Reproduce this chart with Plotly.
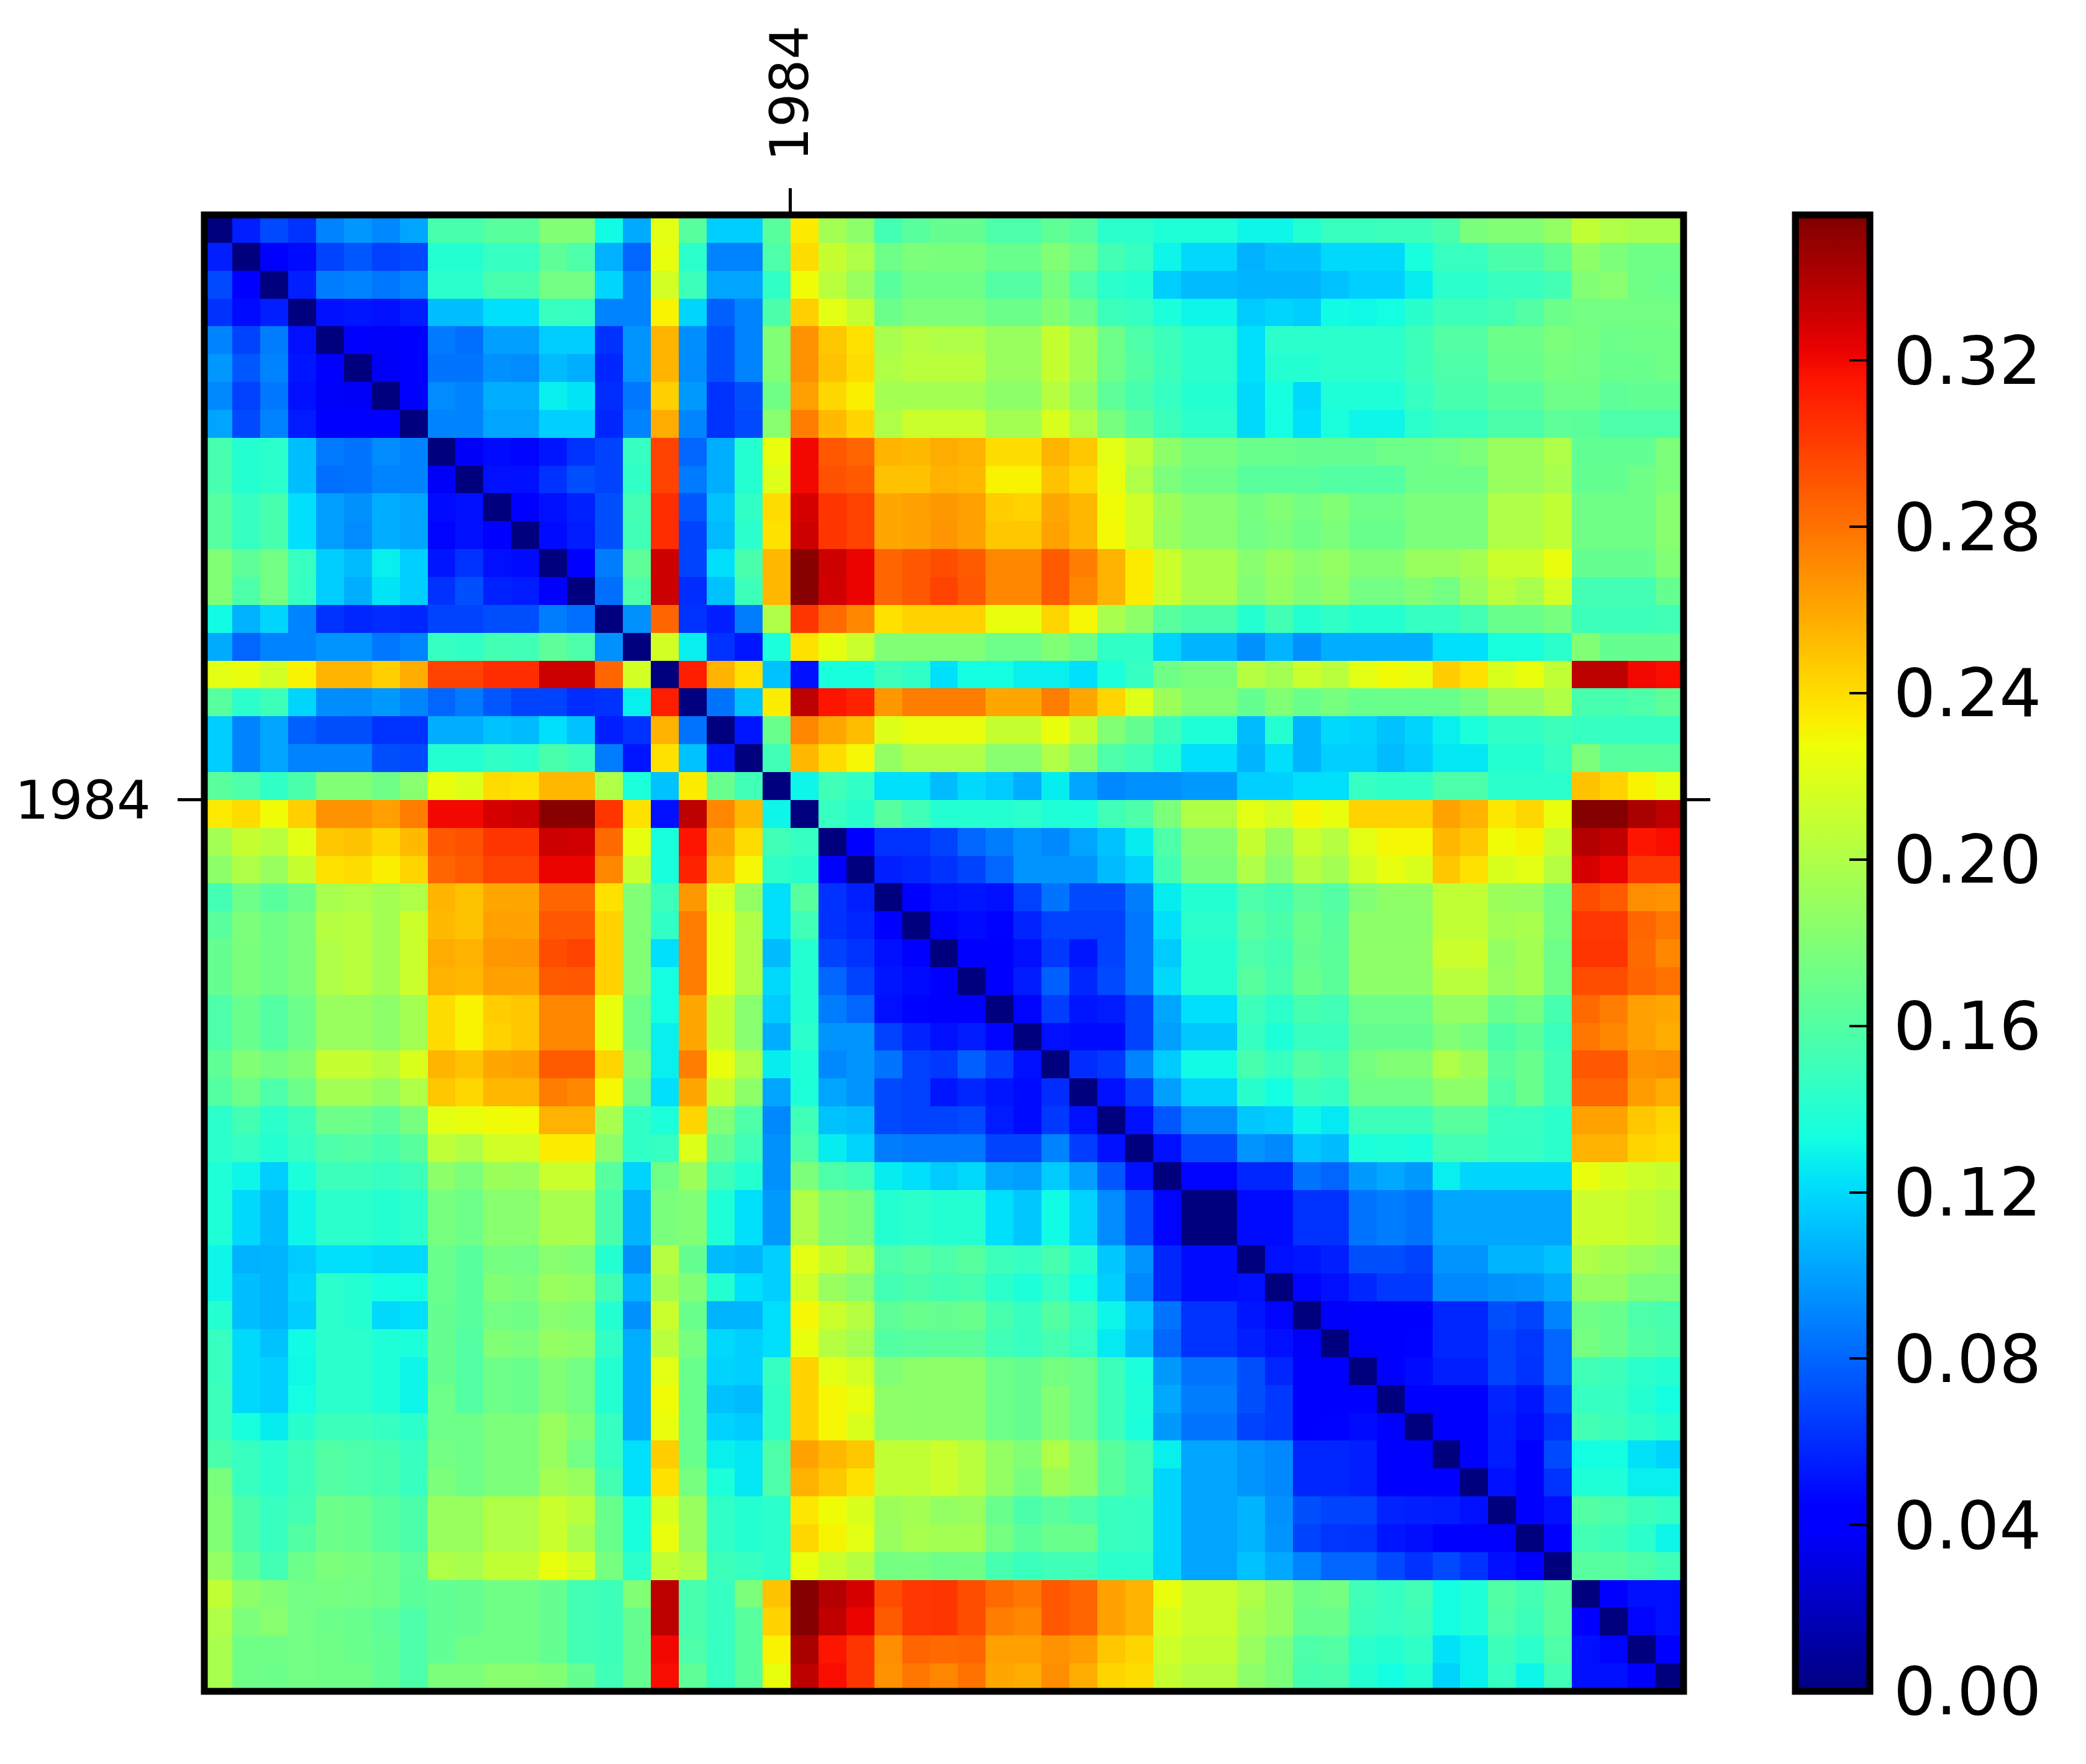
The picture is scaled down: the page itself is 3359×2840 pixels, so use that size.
import numpy as np
import plotly.graph_objects as go

# upper triangle of the distance matrix, in thousandths
# (row n holds columns n+1 .. 52, the matrix is symmetric with a zero diagonal)
row_00 = [55,70,62,90,97,92,102,155,155,162,162,180,180,132,104,222,162,116,116,163,235,195,185,153,163,168,168,158,158,166,161,143,143,138,138,138,130,130,140,148,148,150,150,156,177,180,180,188,208,200,197,197]
row_01 = [40,48,68,75,67,70,140,140,147,147,165,158,106,80,225,143,90,90,158,240,210,200,172,178,177,177,170,170,180,172,153,147,130,120,120,106,111,111,120,120,120,135,148,148,157,157,166,185,178,173,173]
row_02 = [55,88,90,86,90,143,143,155,155,174,174,119,90,215,150,102,102,145,228,205,190,163,173,173,173,160,160,175,158,143,140,116,110,110,107,107,107,112,117,117,127,143,143,148,148,153,180,183,173,171]
row_03 = [50,52,50,54,111,111,122,122,148,147,90,90,232,119,78,90,157,245,222,210,171,178,178,178,171,171,180,171,150,147,136,130,130,115,119,116,132,131,133,142,150,150,153,160,171,174,174,174,174]
row_04 = [40,38,41,87,83,100,100,116,116,62,96,255,94,72,90,180,268,248,238,197,203,200,200,190,190,210,195,172,158,150,143,143,122,143,143,143,143,143,150,160,160,171,171,178,175,171,173,173]
row_05 = [37,39,85,85,95,93,110,105,58,96,255,93,72,90,180,268,250,240,200,205,205,205,190,190,210,195,171,160,150,143,143,122,140,140,143,143,143,150,158,158,170,170,176,174,170,170,173]
row_06 = [40,93,90,105,105,128,124,60,86,245,98,62,72,173,263,242,233,195,195,195,195,185,185,203,188,165,155,147,140,140,120,134,120,138,138,138,147,155,155,163,163,172,172,165,167,167]
row_07 = [90,90,102,102,117,117,58,90,258,91,62,70,183,276,253,243,200,212,212,212,195,195,218,200,176,163,150,143,143,120,133,122,136,130,130,143,148,148,157,157,165,164,158,158,158]
row_08 = [37,48,46,52,62,68,147,298,80,105,140,225,320,290,285,255,253,258,256,240,240,255,248,222,207,185,176,176,170,170,168,168,168,172,172,174,178,190,190,200,167,167,167,178]
row_09 = [50,50,62,72,68,145,298,87,105,140,220,320,292,289,250,250,256,254,232,232,250,242,225,200,178,172,172,163,163,163,160,160,160,172,172,172,190,190,197,168,168,173,178]
row_10 = [40,50,56,72,153,306,75,112,145,240,328,303,298,260,263,266,263,246,244,260,254,228,214,192,183,183,175,180,174,180,172,172,178,178,178,200,200,208,173,173,173,183]
row_11 = [48,54,72,152,306,68,110,143,238,331,303,298,260,262,267,262,248,248,262,254,229,214,190,183,183,174,178,173,178,170,170,178,178,178,200,200,208,173,173,173,183]
row_12 = [41,88,165,331,68,122,156,254,352,331,322,285,290,294,289,272,272,289,276,256,234,212,197,197,183,190,183,188,180,180,190,190,195,212,212,225,168,168,168,180]
row_13 = [83,158,331,60,112,150,254,352,330,322,285,290,298,290,272,272,289,272,256,234,212,197,197,180,188,180,185,174,174,180,174,190,205,197,215,153,153,153,168]
row_14 = [95,285,62,55,88,200,303,283,272,238,244,244,244,225,225,243,230,197,185,162,157,157,140,153,140,145,140,140,147,147,153,170,170,176,150,150,150,152]
row_15 = [215,128,62,52,136,238,224,212,180,180,180,180,172,172,180,173,145,145,118,107,107,95,107,95,105,105,105,105,122,122,135,135,143,180,168,168,168]
row_16 = [312,256,238,112,50,135,135,150,145,122,133,133,128,128,122,136,147,173,177,177,203,195,212,205,222,228,225,246,238,218,225,208,336,336,320,318]
row_17 = [85,112,234,336,315,310,266,276,276,276,260,260,276,260,243,220,192,180,180,168,180,170,176,170,170,170,170,176,190,190,200,155,155,158,165]
row_18 = [52,170,272,260,252,220,225,225,225,210,210,225,210,180,168,150,138,138,110,140,107,120,118,112,118,128,136,145,145,150,147,147,147,147]
row_19 = [152,254,240,230,188,200,200,200,183,183,200,185,158,152,140,122,122,107,122,107,117,117,110,115,125,125,140,140,147,178,162,162,162]
row_20 = [130,152,145,122,122,110,120,115,105,127,102,92,95,95,98,98,117,117,122,122,147,145,145,158,158,143,143,143,250,244,232,225]
row_21 = [147,142,162,152,140,140,140,143,138,137,152,158,178,200,200,222,215,230,225,244,244,244,262,256,236,242,225,353,353,342,336]
row_22 = [40,62,62,68,80,88,96,92,102,112,127,158,180,180,210,190,212,203,222,230,230,254,248,228,231,212,339,335,315,318]
row_23 = [55,58,62,68,80,96,96,96,110,118,153,177,177,200,183,203,195,215,224,218,248,238,218,222,203,328,322,303,303]
row_24 = [40,50,52,50,67,85,70,70,88,127,140,140,158,153,165,160,180,186,186,208,208,192,190,175,294,289,270,268]
row_25 = [40,48,45,57,67,67,67,86,122,143,143,162,157,170,163,185,185,185,208,208,195,197,176,302,302,285,278]
row_26 = [40,43,50,64,52,68,86,115,140,140,158,153,168,164,186,186,186,212,212,188,195,172,303,303,283,272]
row_27 = [43,54,78,58,70,86,120,140,140,162,155,170,164,185,185,185,205,205,190,195,173,294,294,285,280]
row_28 = [46,66,52,54,68,102,122,122,150,143,155,152,172,172,172,188,188,170,175,155,283,276,263,260]
row_29 = [50,48,48,68,100,114,114,147,137,148,148,168,168,168,180,176,157,164,149,278,272,263,258]
row_30 = [60,64,90,115,132,132,155,147,160,155,175,180,180,200,192,163,170,152,290,290,268,270]
row_31 = [50,66,100,118,118,142,133,150,147,172,172,172,185,185,158,170,152,285,285,264,258]
row_32 = [50,75,93,93,114,116,130,126,150,150,150,163,163,148,148,143,262,262,248,243]
row_33 = [50,70,70,96,92,114,110,136,138,136,153,153,147,147,143,256,256,243,240]
row_34 = [46,46,58,58,85,80,98,103,98,128,119,119,119,119,225,218,213,210]
row_35 = [0,48,48,62,62,85,88,85,102,102,102,102,102,212,212,208,203]
row_36 = [48,48,62,62,85,88,85,102,102,102,102,102,212,212,208,203]
row_37 = [50,52,55,72,72,68,96,96,107,107,112,200,195,190,185]
row_38 = [46,50,58,64,64,92,92,95,96,103,188,188,178,178]
row_39 = [38,40,40,43,58,58,72,68,90,173,170,158,155]
row_40 = [40,43,45,58,58,68,63,80,175,170,160,156]
row_41 = [41,48,55,55,68,62,80,152,150,143,140]
row_42 = [40,44,44,57,52,70,147,147,140,133]
row_43 = [44,44,55,49,62,153,150,145,140]
row_44 = [40,54,40,70,133,133,123,118]
row_45 = [50,40,62,138,138,128,128]
row_46 = [40,50,160,158,150,147]
row_47 = [40,153,150,143,130]
row_48 = [162,162,158,152]
row_49 = [40,50,50]
row_50 = [46,50]
row_51 = [40]

rows = [row_00, row_01, row_02, row_03, row_04, row_05, row_06, row_07, row_08, row_09,
        row_10, row_11, row_12, row_13, row_14, row_15, row_16, row_17, row_18, row_19,
        row_20, row_21, row_22, row_23, row_24, row_25, row_26, row_27, row_28, row_29,
        row_30, row_31, row_32, row_33, row_34, row_35, row_36, row_37, row_38, row_39,
        row_40, row_41, row_42, row_43, row_44, row_45, row_46, row_47, row_48, row_49,
        row_50, row_51]

tick_pos = [21]
tick_labels = ["1984"]

n = len(rows) + 1
z = np.zeros((n, n))
for i, r in enumerate(rows):
    z[i, i + 1:] = r
    z[i + 1:, i] = r
z = z / 1000.0

# matplotlib's old jet
stops = np.linspace(0, 1, 65)
red = np.interp(stops, [0, .35, .66, .89, 1], [0, 0, 1, 1, .5])
green = np.interp(stops, [0, .125, .375, .64, .91, 1], [0, 0, 1, 1, 0, 0])
blue = np.interp(stops, [0, .11, .34, .65, 1], [.5, 1, 1, 0, 0])
jet = [[float(s), "rgb(%d,%d,%d)" % (r * 255, g * 255, b * 255)]
       for s, r, g, b in zip(stops, red, green, blue)]

edges = np.arange(n + 1)

fig = go.Figure(go.Heatmap(
    z=z, x=edges, y=edges,
    zmin=0, zmax=0.355,
    colorscale=jet,
    colorbar=dict(
        x=1.0754, xanchor="left", xpad=0,
        y=0.5, yanchor="middle", ypad=0,
        len=1, lenmode="fraction",
        thickness=120,
        outlinewidth=11, outlinecolor="black",
        ticks="inside", ticklen=38, tickwidth=4, tickcolor="black",
        tick0=0, dtick=0.04, tickformat=".2f",
        tickprefix="\u200a",  # pushes the labels off the bar a little
        tickfont=dict(family="DejaVu Sans", size=107, color="black"),
    ),
))

fig.update_layout(
    width=3359, height=2840,
    margin=dict(l=321, r=656, t=338, b=125),
    paper_bgcolor="white", plot_bgcolor="white",
    font=dict(family="DejaVu Sans", color="black"),
    shapes=[dict(type="rect", xref="paper", yref="paper", x0=0, x1=1, y0=0, y1=1,
                 line=dict(color="black", width=11), layer="above")],
)
fig.update_xaxes(
    side="top", range=[0, n], showgrid=False, zeroline=False, showline=False,
    tickmode="array", tickvals=tick_pos, ticktext=tick_labels, tickangle=-90,
    ticks="outside", ticklen=42, tickwidth=4.5, tickcolor="black",
    ticklabelstandoff=26,
    tickfont=dict(size=86, family="DejaVu Sans", color="black"),
)
fig.update_yaxes(
    range=[n, 0], showgrid=False, zeroline=False, showline=False,
    mirror="ticks",
    tickmode="array", tickvals=tick_pos, ticktext=tick_labels,
    ticks="outside", ticklen=42, tickwidth=4.5, tickcolor="black",
    ticklabelstandoff=26,
    tickfont=dict(size=86, family="DejaVu Sans", color="black"),
)

fig.write_html("out.html")
